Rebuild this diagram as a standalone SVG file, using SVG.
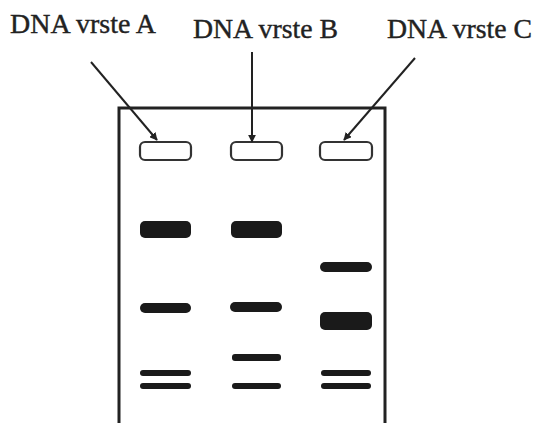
<svg xmlns="http://www.w3.org/2000/svg" width="534" height="423" viewBox="0 0 534 423">
  <defs>
    <style>
      .label { font-family: "Liberation Serif", "Times New Roman", serif; font-size: 27px; fill: #222; stroke: #222; stroke-width: 0.4; }
      .frame { fill: none; stroke: #222; stroke-width: 3; }
      .well { fill: #fff; stroke: #333; stroke-width: 2.2; }
      .band { fill: #1a1a1a; }
      .arrow { stroke: #222; stroke-width: 2; fill: none; marker-end: url(#head); }
    </style>
    <marker id="head" viewBox="0 0 10 10" refX="9" refY="5" markerWidth="8" markerHeight="8" markerUnits="userSpaceOnUse" orient="auto">
      <path d="M0,0 L10,5 L0,10 z" fill="#222"/>
    </marker>
  </defs>
  <rect width="534" height="423" fill="#fff"/>

  <!-- gel frame, open at the bottom -->
  <g id="gel">
    <path class="frame" d="M119,423 V108 H385 V423"/>
  </g>

  <!-- lane A -->
  <g id="laneA">
    <rect class="well" x="140" y="142" width="51" height="18" rx="5"/>
    <rect class="band" x="140" y="221" width="51" height="17" rx="5"/>
    <rect class="band" x="140" y="303" width="51" height="10" rx="5"/>
    <rect class="band" x="140" y="370" width="51" height="6" rx="3"/>
    <rect class="band" x="140" y="383" width="51" height="6" rx="3"/>
  </g>

  <!-- lane B -->
  <g id="laneB">
    <rect class="well" x="231" y="142" width="51" height="18" rx="5"/>
    <rect class="band" x="231" y="221" width="51" height="17" rx="5"/>
    <rect class="band" x="230" y="302" width="52" height="10" rx="5"/>
    <rect class="band" x="232" y="354" width="49" height="7" rx="3"/>
    <rect class="band" x="232" y="383" width="49" height="6" rx="3"/>
  </g>

  <!-- lane C -->
  <g id="laneC">
    <rect class="well" x="320" y="142" width="52" height="18" rx="5"/>
    <rect class="band" x="320" y="262" width="52" height="10" rx="5"/>
    <rect class="band" x="320" y="312" width="52" height="18" rx="5"/>
    <rect class="band" x="321" y="370" width="50" height="6" rx="3"/>
    <rect class="band" x="321" y="383" width="50" height="6" rx="3"/>
  </g>

  <!-- labels -->
  <g id="labelA"><text class="label" x="10" y="33" textLength="146" lengthAdjust="spacingAndGlyphs">DNA vrste A</text></g>
  <g id="labelB"><text class="label" x="193" y="38" textLength="145" lengthAdjust="spacingAndGlyphs">DNA vrste B</text></g>
  <g id="labelC"><text class="label" x="387" y="38" textLength="145" lengthAdjust="spacingAndGlyphs">DNA vrste C</text></g>

  <!-- pointers to wells -->
  <g id="connectors">
    <line class="arrow" x1="91" y1="62" x2="157" y2="140"/>
    <line class="arrow" x1="252" y1="52" x2="252" y2="142"/>
    <line class="arrow" x1="415" y1="58" x2="344" y2="140"/>
  </g>
</svg>
